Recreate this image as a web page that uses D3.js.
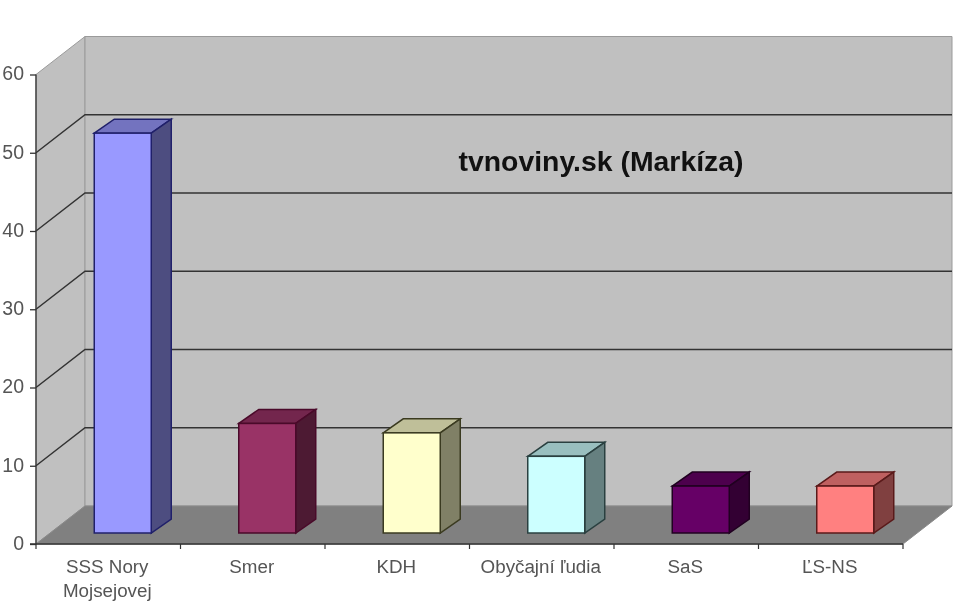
<!DOCTYPE html>
<html><head><meta charset="utf-8">
<script src="https://cdn.jsdelivr.net/npm/d3@7"></script>
<style>
html,body{margin:0;padding:0;background:#fff}
svg{display:block;filter:blur(0.55px)}
text{font-family:"Liberation Sans",Arial,sans-serif}
</style></head><body>
<svg id="c" width="970" height="611"></svg>
<script>
const categories = ["SSS Nory Mojsejovej","Smer","KDH","Obyčajní ľudia","SaS","ĽS-NS"];
const labelLines = [["SSS Nory","Mojsejovej"],["Smer"],["KDH"],["Obyčajní ľudia"],["SaS"],["ĽS-NS"]];
const values = [51.1,14,12.8,9.8,6,6];
const yTicks = [0,10,20,30,40,50,60];
const faceColors = ["#9999ff","#993366","#ffffcc","#ccffff","#660066","#ff8080"];
const edgeColors = ["#20206a","#4a0a2a","#3a3a20","#2a4040","#200020","#5a1a1a"];
const title = "tvnoviny.sk (Markíza)";

const svg = d3.select("#c");
const x0=36, x1=903, yBase=544, yTop=74.5;
const depthX=49, depthY=38;
const barDX=20, barDY=14;
const y = d3.scaleLinear().domain([0,60]).range([yBase,yTop]);
const x = d3.scaleBand().domain(categories).range([x0,x1]);
const poly = pts => pts.map(p=>p.join(",")).join(" ");

// walls and floor
svg.append("polygon").attr("points",poly([[x0,y(60)],[x0+depthX,y(60)-depthY],[x0+depthX,yBase-depthY],[x0,yBase]])).attr("fill","#c0c0c0").attr("stroke","#9a9a9a");
svg.append("polygon").attr("points",poly([[x0+depthX,y(60)-depthY],[x1+depthX,y(60)-depthY],[x1+depthX,yBase-depthY],[x0+depthX,yBase-depthY]])).attr("fill","#c0c0c0").attr("stroke","#9a9a9a");
svg.append("polygon").attr("points",poly([[x0,yBase],[x0+depthX,yBase-depthY],[x1+depthX,yBase-depthY],[x1,yBase]])).attr("fill","#808080").attr("stroke","#8a8a8a");

// gridlines
const grid = yTicks.filter(v=>v>0&&v<60);
svg.append("g").selectAll("polyline").data(grid).join("polyline")
  .attr("points",v=>poly([[x0,y(v)],[x0+depthX,y(v)-depthY],[x1+depthX,y(v)-depthY]]))
  .attr("fill","none").attr("stroke","#333").attr("stroke-width",1.5);

// bars
const barW=57, barShiftX=14.5, floorGap=11;
const bars = svg.append("g").selectAll("g").data(categories).join("g");
const bx = (d)=>x(d)+x.bandwidth()/2+barShiftX-barW/2;
const by = (i)=>y(values[i])-floorGap;
const bb = yBase-floorGap;
const dark = (c,k)=>{const r=d3.rgb(c);return d3.rgb(r.r*k,r.g*k,r.b*k).formatHex();};
bars.append("polygon").attr("points",(d,i)=>poly([[bx(d),by(i)],[bx(d)+barDX,by(i)-barDY],[bx(d)+barW+barDX,by(i)-barDY],[bx(d)+barW,by(i)]]))
  .attr("fill",(d,i)=>dark(faceColors[i],0.75)).attr("stroke",(d,i)=>edgeColors[i]).attr("stroke-width",1.5);
bars.append("polygon").attr("points",(d,i)=>poly([[bx(d)+barW,by(i)],[bx(d)+barW+barDX,by(i)-barDY],[bx(d)+barW+barDX,bb-barDY],[bx(d)+barW,bb]]))
  .attr("fill",(d,i)=>dark(faceColors[i],0.5)).attr("stroke",(d,i)=>edgeColors[i]).attr("stroke-width",1.5);
bars.append("rect").attr("x",d=>bx(d)).attr("y",(d,i)=>by(i)).attr("width",barW).attr("height",(d,i)=>bb-by(i))
  .attr("fill",(d,i)=>faceColors[i]).attr("stroke",(d,i)=>edgeColors[i]).attr("stroke-width",1.5);

// y axis
const ya = svg.append("g").attr("transform",`translate(${x0},0)`)
  .call(d3.axisLeft(y).tickValues(yTicks).tickSize(6).tickPadding(6).tickFormat(d3.format("d")));
ya.selectAll("path,line").attr("stroke","#333").attr("stroke-width",1.3);
ya.selectAll("text").attr("font-size",19.5).attr("fill","#555").attr("font-family","Liberation Sans").attr("dy","0.28em");
ya.select(".domain").attr("d",`M0,${y(60)}V${y(0)}`);

// x axis
const xa = svg.append("g");
xa.append("line").attr("x1",x0-6).attr("x2",x1).attr("y1",yBase).attr("y2",yBase).attr("stroke","#333").attr("stroke-width",1.5);
const tickAt = categories.map(d=>x(d)+x.bandwidth()).concat([x0]);
xa.selectAll("line.t").data(tickAt).join("line").attr("class","t")
  .attr("x1",d=>d).attr("x2",d=>d).attr("y1",yBase).attr("y2",yBase+5).attr("stroke","#333").attr("stroke-width",1.2);
const lab = xa.selectAll("text").data(categories).join("text")
  .attr("text-anchor","middle").attr("font-size",18.8).attr("fill","#555")
  .attr("y",573).attr("transform",d=>`translate(${x(d)+x.bandwidth()/2-1},0)`);
lab.selectAll("tspan").data((d,i)=>labelLines[i]).join("tspan")
  .attr("x",0).attr("dy",(d,i)=>i?24:0).text(d=>d);

// title
svg.append("text").attr("x",601).attr("y",170.5).attr("text-anchor","middle")
  .attr("font-size",28.4).attr("font-weight","bold").attr("fill","#111").text(title);
</script>
</body></html>
